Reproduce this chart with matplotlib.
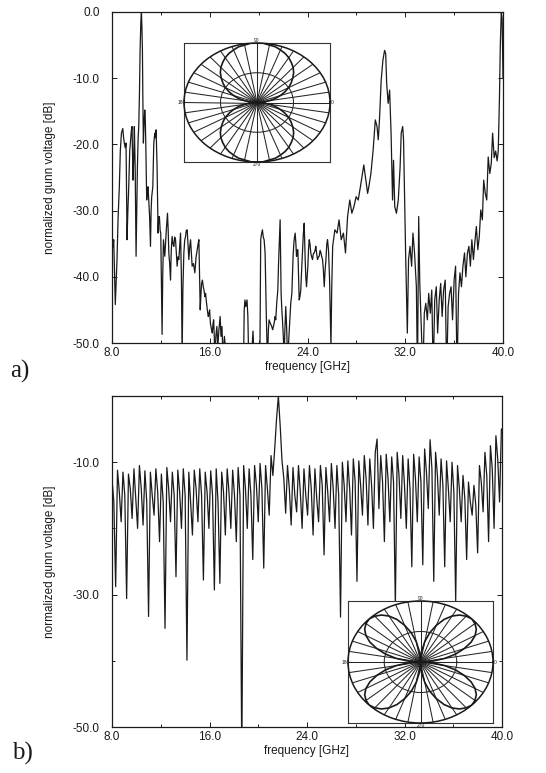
import numpy as np
import matplotlib

matplotlib.use("Agg")
import matplotlib.pyplot as plt
from matplotlib.ticker import MultipleLocator, FixedLocator

freq_a = [
    8.00, 8.07, 8.14, 8.27, 8.41, 8.50, 8.60, 8.68, 8.77, 8.88,
    8.95, 9.01, 9.08, 9.15, 9.23, 9.30, 9.37, 9.45, 9.50, 9.58,
    9.64, 9.72, 9.78, 9.83, 9.90, 9.97, 10.03, 10.08, 10.14, 10.19,
    10.25, 10.30, 10.36, 10.41, 10.45, 10.49, 10.53, 10.57, 10.62, 10.68,
    10.72, 10.76, 10.80, 10.84, 10.90, 10.95, 11.01, 11.08, 11.15, 11.20,
    11.25, 11.34, 11.42, 11.50, 11.55, 11.61, 11.69, 11.77, 11.82, 11.88,
    11.94, 11.99, 12.05, 12.10, 12.15, 12.21, 12.32, 12.43, 12.54, 12.60,
    12.65, 12.72, 12.79, 12.85, 12.92, 12.99, 13.06, 13.13, 13.20, 13.27,
    13.33, 13.40, 13.47, 13.55, 13.61, 13.68, 13.74, 13.80, 13.88, 13.95,
    14.02, 14.08, 14.15, 14.22, 14.29, 14.36, 14.43, 14.50, 14.56, 14.67,
    14.78, 14.88, 14.97, 15.05, 15.11, 15.17, 15.22, 15.27, 15.33, 15.40,
    15.47, 15.53, 15.60, 15.66, 15.71, 15.80, 15.88, 15.94, 15.99, 16.05,
    16.10, 16.15, 16.21, 16.27, 16.32, 16.37, 16.42, 16.50, 16.58, 16.66,
    16.75, 16.85, 16.92, 17.00, 17.08, 17.20, 17.30, 17.40, 18.75, 18.82,
    18.88, 18.95, 19.00, 19.05, 19.12, 19.18, 19.30, 19.45, 19.54, 19.60,
    19.70, 20.10, 20.17, 20.24, 20.31, 20.38, 20.45, 20.53, 20.62, 20.72,
    20.80, 20.86, 20.95, 21.07, 21.15, 21.27, 21.35, 21.40, 21.48, 21.57,
    21.63, 21.68, 21.76, 21.80, 21.84, 21.90, 21.95, 22.02, 22.09, 22.15,
    22.22, 22.30, 22.36, 22.45, 22.55, 22.63, 22.72, 22.78, 22.82, 22.90,
    22.99, 23.05, 23.10, 23.15, 23.21, 23.27, 23.32, 23.38, 23.45, 23.52,
    23.59, 23.66, 23.73, 23.77, 23.81, 23.86, 23.92, 23.97, 24.03, 24.08,
    24.14, 24.20, 24.27, 24.34, 24.41, 24.48, 24.55, 24.62, 24.68, 24.75,
    24.82, 24.90, 24.96, 25.03, 25.10, 25.17, 25.23, 25.30, 25.37, 25.44,
    25.51, 25.58, 25.64, 25.72, 25.80, 25.88, 25.92, 25.98, 26.06, 26.24,
    26.42, 26.58, 26.76, 26.94, 27.11, 27.28, 27.46, 27.63, 27.80, 27.98,
    28.15, 28.33, 28.50, 28.61, 28.78, 28.92, 29.02, 29.19, 29.37, 29.55,
    29.69, 29.79, 29.89, 30.03, 30.17, 30.31, 30.40, 30.48, 30.60, 30.72,
    30.84, 30.96, 31.04, 31.14, 31.28, 31.43, 31.58, 31.67, 31.79, 31.86,
    31.93, 32.03, 32.17, 32.27, 32.39, 32.52, 32.63, 32.76, 32.91, 33.00,
    33.10, 33.19, 33.32, 33.44, 33.56, 33.68, 33.81, 33.92, 34.05, 34.17,
    34.29, 34.41, 34.54, 34.65, 34.78, 34.90, 35.02, 35.14, 35.27, 35.39,
    35.51, 35.63, 35.75, 35.87, 36.00, 36.12, 36.24, 36.36, 36.48, 36.60,
    36.72, 36.85, 36.96, 37.09, 37.21, 37.33, 37.45, 37.58, 37.69, 37.82,
    37.94, 38.06, 38.18, 38.31, 38.42, 38.55, 38.67, 38.79, 38.92, 39.04,
    39.15, 39.28, 39.40, 39.52, 39.61, 39.71, 39.78, 39.86, 39.93, 40.00,
]
level_a = [
    -33.4, -35.5, -34.4, -44.2, -37.4, -31.0, -26.4, -21.0, -18.3, -17.6,
    -19.0, -19.8, -20.5, -19.8, -34.4, -30.0, -26.4, -21.0, -19.8, -18.0,
    -17.3, -25.4, -22.0, -17.3, -24.0, -36.9, -30.0, -23.4, -19.0, -17.3,
    -12.0, -5.8, -1.5, 0.0, -2.5, -5.8, -14.0, -19.8, -17.0, -14.8,
    -16.0, -19.3, -24.0, -28.4, -27.0, -26.4, -28.4, -31.0, -35.4, -30.0,
    -27.9, -26.4, -19.8, -18.3, -19.0, -17.8, -23.4, -33.4, -31.0, -30.9,
    -33.0, -33.4, -42.0, -48.7, -40.0, -34.4, -36.9, -33.4, -30.4, -33.0,
    -36.4, -38.0, -40.5, -36.0, -33.9, -35.0, -35.4, -34.0, -34.4, -36.5,
    -38.4, -37.0, -37.4, -35.0, -33.4, -40.0, -52.0, -42.0, -36.4, -34.5,
    -33.9, -33.0, -32.9, -35.0, -37.4, -35.5, -34.4, -36.5, -38.4, -38.0,
    -39.4, -37.0, -35.9, -35.0, -34.4, -40.0, -45.0, -43.0, -41.0, -40.5,
    -41.5, -42.0, -43.0, -42.5, -43.5, -45.0, -46.0, -45.5, -45.0, -47.0,
    -47.5, -48.0, -48.5, -47.0, -46.5, -49.0, -53.0, -49.0, -47.5, -50.5,
    -48.0, -46.0, -49.0, -47.5, -52.0, -49.0, -51.0, -55.0, -55.0, -45.0,
    -43.5, -44.5, -44.0, -43.5, -46.0, -52.0, -55.0, -51.0, -48.2, -51.0,
    -55.0, -53.0, -34.4, -33.5, -32.9, -34.0, -34.4, -36.4, -45.0, -53.0,
    -48.0, -46.5, -47.0, -47.5, -48.0, -47.0, -46.0, -46.5, -44.0, -42.0,
    -38.0, -35.4, -31.4, -37.0, -42.5, -45.0, -46.5, -49.0, -52.0, -48.0,
    -44.5, -48.0, -52.0, -50.0, -46.5, -44.0, -42.5, -39.0, -36.9, -34.5,
    -33.4, -35.0, -36.9, -36.0, -35.9, -40.0, -43.5, -43.0, -42.0, -39.0,
    -36.4, -33.5, -31.9, -35.0, -37.4, -40.0, -41.5, -40.0, -38.4, -36.0,
    -34.4, -35.0, -36.4, -37.0, -37.4, -36.5, -36.4, -36.0, -35.4, -36.5,
    -37.4, -37.0, -36.9, -36.0, -36.4, -37.0, -37.4, -39.0, -41.5, -39.0,
    -37.4, -35.0, -34.4, -36.0, -40.0, -47.0, -50.5, -42.0, -35.4, -32.9,
    -33.4, -31.4, -34.4, -33.4, -36.4, -30.9, -28.4, -30.4, -29.4, -27.9,
    -28.4, -26.4, -24.4, -23.1, -25.4, -27.4, -26.4, -24.4, -20.9, -16.3,
    -17.3, -19.3, -16.3, -10.3, -7.3, -5.8, -6.3, -10.8, -13.8, -11.8,
    -18.3, -28.4, -22.4, -29.4, -30.4, -28.4, -23.4, -18.3, -17.3, -19.3,
    -26.4, -36.4, -48.5, -37.4, -35.4, -38.4, -33.4, -36.4, -41.5, -55.0,
    -30.9, -41.0, -48.0, -55.0, -45.5, -44.0, -46.5, -42.5, -45.5, -42.0,
    -55.0, -43.5, -41.5, -48.5, -43.5, -41.0, -46.0, -42.0, -40.5, -55.0,
    -44.5, -42.5, -41.5, -46.5, -40.5, -38.4, -55.0, -42.5, -39.4, -41.5,
    -38.4, -36.4, -40.0, -36.4, -35.4, -38.4, -34.4, -37.4, -34.9, -32.4,
    -35.9, -33.9, -29.9, -31.4, -25.4, -27.4, -28.4, -21.9, -24.4, -22.9,
    -18.3, -22.0, -21.0, -22.5, -21.0, -13.0, -5.0, 0.0, -1.0, -10.0,
]

# panel b: sampled every 0.15 GHz starting at 8.0 GHz
freq_b_start = 8.0
freq_b_step = 0.15
level_b = [
    -12.5, -16.0, -28.8, -11.2, -14.5, -19.0, -11.5, -15.0, -30.6,
    -11.8, -14.0, -18.5, -11.0, -15.5, -20.0, -10.5, -14.0, -19.5,
    -11.3, -16.0, -33.3, -11.5, -15.0, -18.0, -11.0, -14.5, -22.0,
    -11.8, -16.0, -35.1, -10.8, -14.0, -19.0, -11.5, -15.0, -27.3,
    -11.2, -14.5, -20.0, -11.0, -15.0, -39.9, -11.5, -16.0, -21.0,
    -11.2, -14.0, -19.0, -11.0, -15.0, -27.8, -11.5, -14.5, -20.0,
    -11.3, -15.0, -29.3, -11.0, -16.0, -28.3, -11.5, -14.5, -21.0,
    -11.0, -14.5, -20.0, -11.2, -15.0, -22.0, -10.8, -15.0, -55.0,
    -10.5, -14.0, -20.0, -11.0, -15.0, -24.7, -10.5, -13.5, -19.0,
    -10.2, -14.0, -26.0, -10.5, -14.0, -18.0, -9.0, -12.0,
    -8.0, -3.5, 0.0, -4.5, -9.8, -12.5,
    -17.7, -10.5, -14.0, -19.5, -10.8, -15.0, -17.5, -10.5, -14.5,
    -20.0, -11.0, -15.0, -18.0, -10.5, -14.0, -21.0, -11.0, -15.5,
    -19.0, -10.5, -13.5, -24.0, -10.8, -14.5, -19.0, -10.2, -14.0,
    -20.0, -10.5, -15.0, -33.4, -10.0, -13.5, -19.0, -9.8, -14.0,
    -21.0, -9.5, -13.0, -28.0, -9.8, -13.5, -18.0, -9.0, -12.5,
    -19.5, -9.5, -13.5,
    -20.0, -8.5, -6.5, -17.0, -9.0, -13.0, -22.0, -8.8, -12.5,
    -19.0, -9.2, -13.0, -31.8, -8.5, -12.0, -18.5, -9.0, -13.5,
    -20.0, -9.5, -14.0, -25.8, -8.8, -12.5, -19.0, -9.2, -13.0,
    -25.5, -8.0, -11.5, -17.0, -6.6, -11.0, -28.0, -8.5, -12.0,
    -18.0, -9.5, -13.5, -25.8, -9.8, -14.0, -19.0, -10.0, -14.5,
    -31.0,
    -10.5, -14.0, -19.0, -12.0, -15.5, -24.7, -13.0, -16.0, -18.0,
    -13.5, -16.5, -23.7, -10.5, -13.0, -17.5, -8.5, -12.0, -22.0,
    -7.5, -11.0, -20.0, -6.0, -9.5, -16.0, -5.0,
]

# inset radiation patterns, every 5 degrees
pattern_angles = list(range(0, 365, 5))
pattern_a = [
    0.00, 0.09, 0.17, 0.26, 0.34, 0.42, 0.50, 0.57, 0.64, 0.71, 0.77, 0.82,
    0.87, 0.91, 0.94, 0.97, 0.98, 1.00, 1.00,
    1.00, 0.98, 0.97, 0.94, 0.91, 0.87, 0.82, 0.77, 0.71, 0.64, 0.57, 0.50,
    0.42, 0.34, 0.26, 0.17, 0.09, 0.00,
    0.09, 0.17, 0.26, 0.34, 0.42, 0.50, 0.57, 0.64, 0.71, 0.77, 0.82, 0.87,
    0.91, 0.94, 0.97, 0.98, 1.00, 1.00,
    1.00, 0.98, 0.97, 0.94, 0.91, 0.87, 0.82, 0.77, 0.71, 0.64, 0.57, 0.50,
    0.42, 0.34, 0.26, 0.17, 0.09, 0.00,
]
pattern_b = [
    0.00, 0.17, 0.34, 0.50, 0.64, 0.77, 0.87, 0.94, 0.98, 1.00,
    0.98, 0.94, 0.87, 0.77, 0.64, 0.50, 0.34, 0.17, 0.00,
    0.17, 0.34, 0.50, 0.64, 0.77, 0.87, 0.94, 0.98, 1.00,
    0.98, 0.94, 0.87, 0.77, 0.64, 0.50, 0.34, 0.17, 0.00,
    0.17, 0.34, 0.50, 0.64, 0.77, 0.87, 0.94, 0.98, 1.00,
    0.98, 0.94, 0.87, 0.77, 0.64, 0.50, 0.34, 0.17, 0.00,
    0.17, 0.34, 0.50, 0.64, 0.77, 0.87, 0.94, 0.98, 1.00,
    0.98, 0.94, 0.87, 0.77, 0.64, 0.50, 0.34, 0.17, 0.00,
]

xticks = [8, 16, 24, 32, 40]
yticks_a = [0, -10, -20, -30, -40, -50]
yticks_b = [-10, -30, -50]
yminor_b = [0, -20, -40]
inset_labels = {0: "0", 90: "90", 180: "180", 270: "270"}

INK = "#1a1a1a"
W, H = 546, 773


def style_axes(ax, yticks):
    ax.set_xlim(8, 40)
    ax.set_ylim(-50, 0)
    ax.xaxis.set_major_locator(FixedLocator(xticks))
    ax.xaxis.set_minor_locator(MultipleLocator(4))
    ax.yaxis.set_major_locator(FixedLocator(yticks))
    ax.set_xticklabels([f"{v:.1f}" for v in xticks])
    ax.set_yticklabels([f"{v:.1f}" for v in yticks])
    ax.tick_params(which="both", direction="in", top=True, right=True,
                   colors=INK, labelsize=8.5)
    ax.tick_params(axis="x", pad=3)
    ax.tick_params(axis="y", pad=9)
    ax.tick_params(which="major", length=3.5, width=0.7)
    ax.tick_params(which="minor", length=2.5, width=0.7)
    for s in ax.spines.values():
        s.set_linewidth(0.9)
        s.set_color(INK)
    ax.set_xlabel("frequency [GHz]", fontsize=8.5, labelpad=1)
    ax.set_ylabel("normalized gunn voltage [dB]", fontsize=8.5, labelpad=12)


def add_pattern(fig, rect, pattern):
    frame = fig.add_axes(rect)
    frame.set_xticks([])
    frame.set_yticks([])
    frame.set_facecolor("white")
    for s in frame.spines.values():
        s.set_linewidth(0.8)
        s.set_color("#333333")

    pol = fig.add_axes(rect, projection="polar")
    pol.set_aspect("auto")
    pol.patch.set_alpha(0)
    pol.plot(np.radians(pattern_angles), pattern, color=INK, lw=1.2)
    pol.set_ylim(0, 1)
    pol.set_rgrids([0.5], labels=[""])
    angles = list(range(0, 360, 10))
    pol.set_thetagrids(angles, labels=[inset_labels.get(a, "") for a in angles])
    pol.tick_params(axis="x", labelsize=3.5, pad=-9, colors=INK)
    pol.grid(True, color="#262626", lw=0.75)
    pol.spines["polar"].set_linewidth(1.1)
    pol.spines["polar"].set_color(INK)


def main():
    plt.rcParams["font.family"] = ["Liberation Sans", "DejaVu Sans"]
    plt.rcParams["axes.unicode_minus"] = False
    plt.rcParams["text.color"] = INK
    plt.rcParams["axes.labelcolor"] = INK

    fig = plt.figure(figsize=(W / 100, H / 100), dpi=100)

    ax_a = fig.add_axes([112 / W, 1 - 343 / H, 391 / W, 331 / H])
    ax_a.plot(freq_a, level_a, color=INK, lw=0.9)
    style_axes(ax_a, yticks_a)

    freq_b = freq_b_start + freq_b_step * np.arange(len(level_b))
    ax_b = fig.add_axes([112 / W, 1 - 727 / H, 390 / W, 331 / H])
    ax_b.plot(freq_b, level_b, color=INK, lw=0.9)
    style_axes(ax_b, yticks_b)
    ax_b.yaxis.set_minor_locator(FixedLocator(yminor_b))

    add_pattern(fig, [184 / W, 1 - 162 / H, 146 / W, 119 / H], pattern_a)
    add_pattern(fig, [348 / W, 1 - 723 / H, 145 / W, 122 / H], pattern_b)

    fig.text(10 / W, 1 - 378 / H, "a)", fontsize=18, family="Liberation Serif")
    fig.text(12 / W, 1 - 760 / H, "b)", fontsize=18, family="Liberation Serif")

    fig.savefig("out.png", dpi=100, facecolor="white")


if __name__ == "__main__":
    main()
